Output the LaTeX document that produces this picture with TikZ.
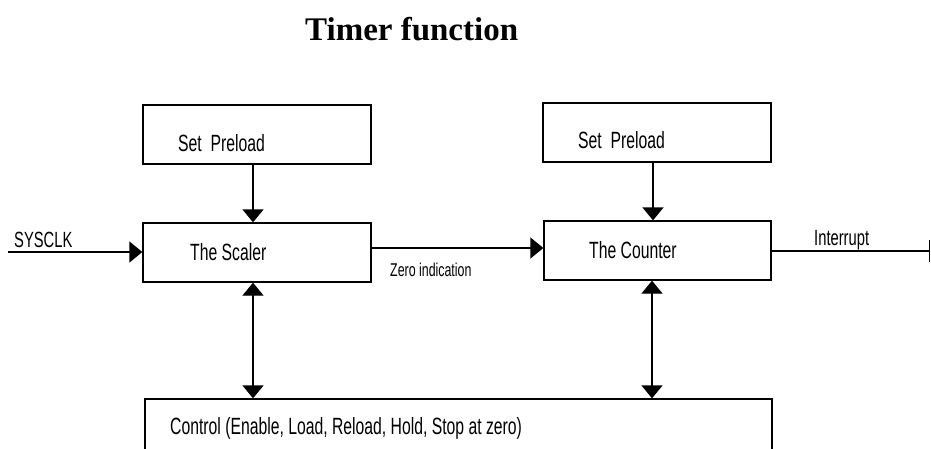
\documentclass[tikz,border=0pt]{standalone}
\usepackage{fontspec}
\setmainfont{Liberation Serif}
\newfontfamily\nar[FakeStretch=0.67]{Liberation Sans}
\usetikzlibrary{arrows.meta,calc}
\begin{document}
\begin{tikzpicture}[x=1pt,y=-1pt,
  blk/.style={draw,line width=1.3pt,rectangle,inner sep=0pt,minimum width=228pt,minimum height=59pt},
  lbl/.style={anchor=base west,inner sep=0pt,font=\nar\fontsize{23.5}{26}\selectfont},
  slbl/.style={anchor=base west,inner sep=0pt,font=\nar\fontsize{18.5}{21}\selectfont},
  con/.style={line width=1.3pt,-{Triangle[length=13pt,width=21pt]}},
  bicon/.style={line width=1.3pt,{Triangle[length=13pt,width=21pt]}-{Triangle[length=13pt,width=21pt]}}]
\useasboundingbox (0,0) rectangle (931,448);
\clip (0,0) rectangle (931,448);
% title
\node[anchor=base west,inner sep=0pt,font=\bfseries\fontsize{33}{36}\selectfont] (title) at (305,40) {Timer function};
% boxes
\node[blk] (sp1) at (257,134.5) {};
\node[blk] (sc) at (257,252.5) {};
\node[blk,minimum width=228pt] (sp2) at (657,132.5) {};
\node[blk,minimum width=227pt] (ct) at (657.5,250.5) {};
\node[blk,minimum width=627pt,minimum height=61pt] (ctrl) at (458.5,429.5) {};
% texts
\node[lbl] (t1) at (178,151) {Set\ \ Preload};
\node[lbl] (t2) at (578,148) {Set\ \ Preload};
\node[lbl] (t3) at (190,260) {The Scaler};
\node[lbl] (t4) at (589,258) {The Counter};
\node[lbl] (t5) at (170,434) {Control (Enable, Load, Reload, Hold, Stop at zero)};
\node[slbl,font=\nar\fontsize{22}{24}\selectfont] (t6) at (14,247) {SYSCLK};
\node[slbl] (t7) at (390,276) {Zero indication};
\node[slbl,font=\nar\fontsize{22}{24}\selectfont] (t8) at (814,245) {Interrupt};
% connectors
\coordinate (clk) at (8,252);
\coordinate (irq) at (930,251);
\draw[con] ([xshift=-4pt]sp1.south) -- ([xshift=-4pt]sc.north);
\draw[con] ([xshift=-4pt]sp2.south) -- ([xshift=-4.5pt]ct.north);
\draw[con] (clk) -- (clk -| sc.west);
\draw[con] ([yshift=4.5pt]sc.east) -- ([yshift=2.5pt]ct.west);
\draw[line width=1.3pt,-{Bar[width=22pt,line width=1.3pt]}] (ct.east |- irq) -- (irq);
\draw[bicon] ([xshift=-4pt]sc.south) -- ([xshift=-4pt]sc.south |- ctrl.north);
\draw[bicon] ([xshift=-5.5pt]ct.south) -- ([xshift=-5.5pt]ct.south |- ctrl.north);
\end{tikzpicture}
\end{document}
